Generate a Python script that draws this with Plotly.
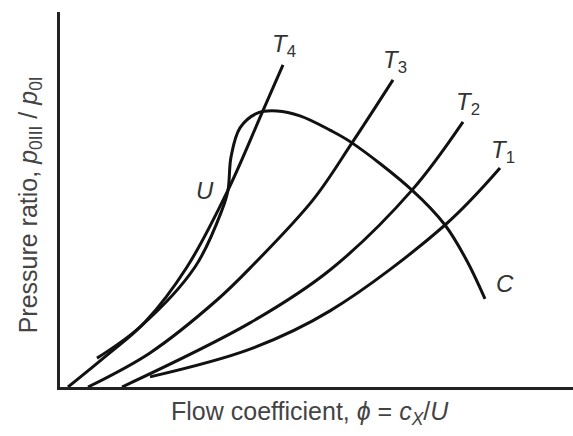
import plotly.graph_objects as go

# characteristic curves (arbitrary units, x: 0-102.6, y: 0-100)
t4_x = [1.6, 9.4, 17.0, 25.4, 33.6, 40.4, 44.6]
t4_y = [0.0, 8.5, 17.3, 32.0, 52.5, 73.1, 85.9]

t3_x = [5.6, 18.0, 31.4, 38.0, 50.6, 58.4, 66.6]
t3_y = [0.0, 9.1, 23.2, 31.7, 49.9, 65.1, 81.9]

t2_x = [12.4, 38.0, 54.0, 70.4, 80.6]
t2_y = [0.0, 17.1, 31.2, 52.5, 70.7]

t1_x = [18.0, 38.0, 54.0, 77.0, 88.0]
t1_y = [2.7, 10.1, 20.3, 43.2, 58.4]

# surge / compressor line C with loop through U
c_x = [7.4, 16.0, 27.0, 32.4, 33.6, 34.2, 36.0, 39.6, 43.4, 48.0, 54.0, 58.4, 70.4, 77.0, 81.4, 85.0]
c_y = [7.7, 16.0, 32.0, 47.2, 52.5, 61.3, 69.1, 73.1, 73.6, 72.3, 68.5, 65.1, 52.5, 43.2, 33.6, 23.5]

labels = ["<i>T</i><sub>4</sub>", "<i>T</i><sub>3</sub>", "<i>T</i><sub>2</sub>",
          "<i>T</i><sub>1</sub>", "<i>C</i>", "<i>U</i>"]
label_x = [44.8, 67.0, 81.6, 88.6, 89.0, 29.0]
label_y = [91.2, 86.7, 75.7, 62.7, 27.7, 52.5]

line = dict(color='#111111', width=3, shape='spline', smoothing=1)

fig = go.Figure()
for xs, ys in [(t4_x, t4_y), (t3_x, t3_y), (t2_x, t2_y), (t1_x, t1_y), (c_x, c_y)]:
    fig.add_trace(go.Scatter(x=xs, y=ys, mode='lines', line=line,
                             hoverinfo='skip', showlegend=False))

for txt, lx, ly in zip(labels, label_x, label_y):
    fig.add_annotation(x=lx, y=ly, text=txt, showarrow=False,
                       font=dict(size=24, color='#333333'))

fig.update_layout(
    width=573, height=436,
    margin=dict(l=60, r=0, t=12, b=49),
    paper_bgcolor='white', plot_bgcolor='white',
    font=dict(family='Liberation Sans, Arial, sans-serif', color='#333333'),
    xaxis=dict(range=[0, 102.6], showline=True, linecolor='#222222', linewidth=2.5,
               showgrid=False, zeroline=False, showticklabels=False, ticks=''),
    yaxis=dict(range=[0, 100], showline=True, linecolor='#222222', linewidth=2.5,
               showgrid=False, zeroline=False, showticklabels=False, ticks=''),
)

fig.add_annotation(xref='paper', yref='paper', x=0.213, xanchor='left', y=-0.068, yanchor='middle',
                   text='Flow coefficient, <i>ϕ</i> = <i>c</i><sub><i>X</i></sub>/<i>U</i>',
                   showarrow=False, font=dict(size=25, color='#444444'))
fig.add_annotation(xref='paper', yref='paper', x=-0.058, y=0.485, xanchor='center',
                   text='Pressure ratio, <i>p</i><sub>0III</sub> / <i>p</i><sub>0I</sub>',
                   textangle=-90, showarrow=False, font=dict(size=25, color='#444444'))

# drop the default page margin so the figure sits at the window's corner
fig.write_html("out.html", config={'displayModeBar': False},
               post_script="document.body.style.margin='0';")
